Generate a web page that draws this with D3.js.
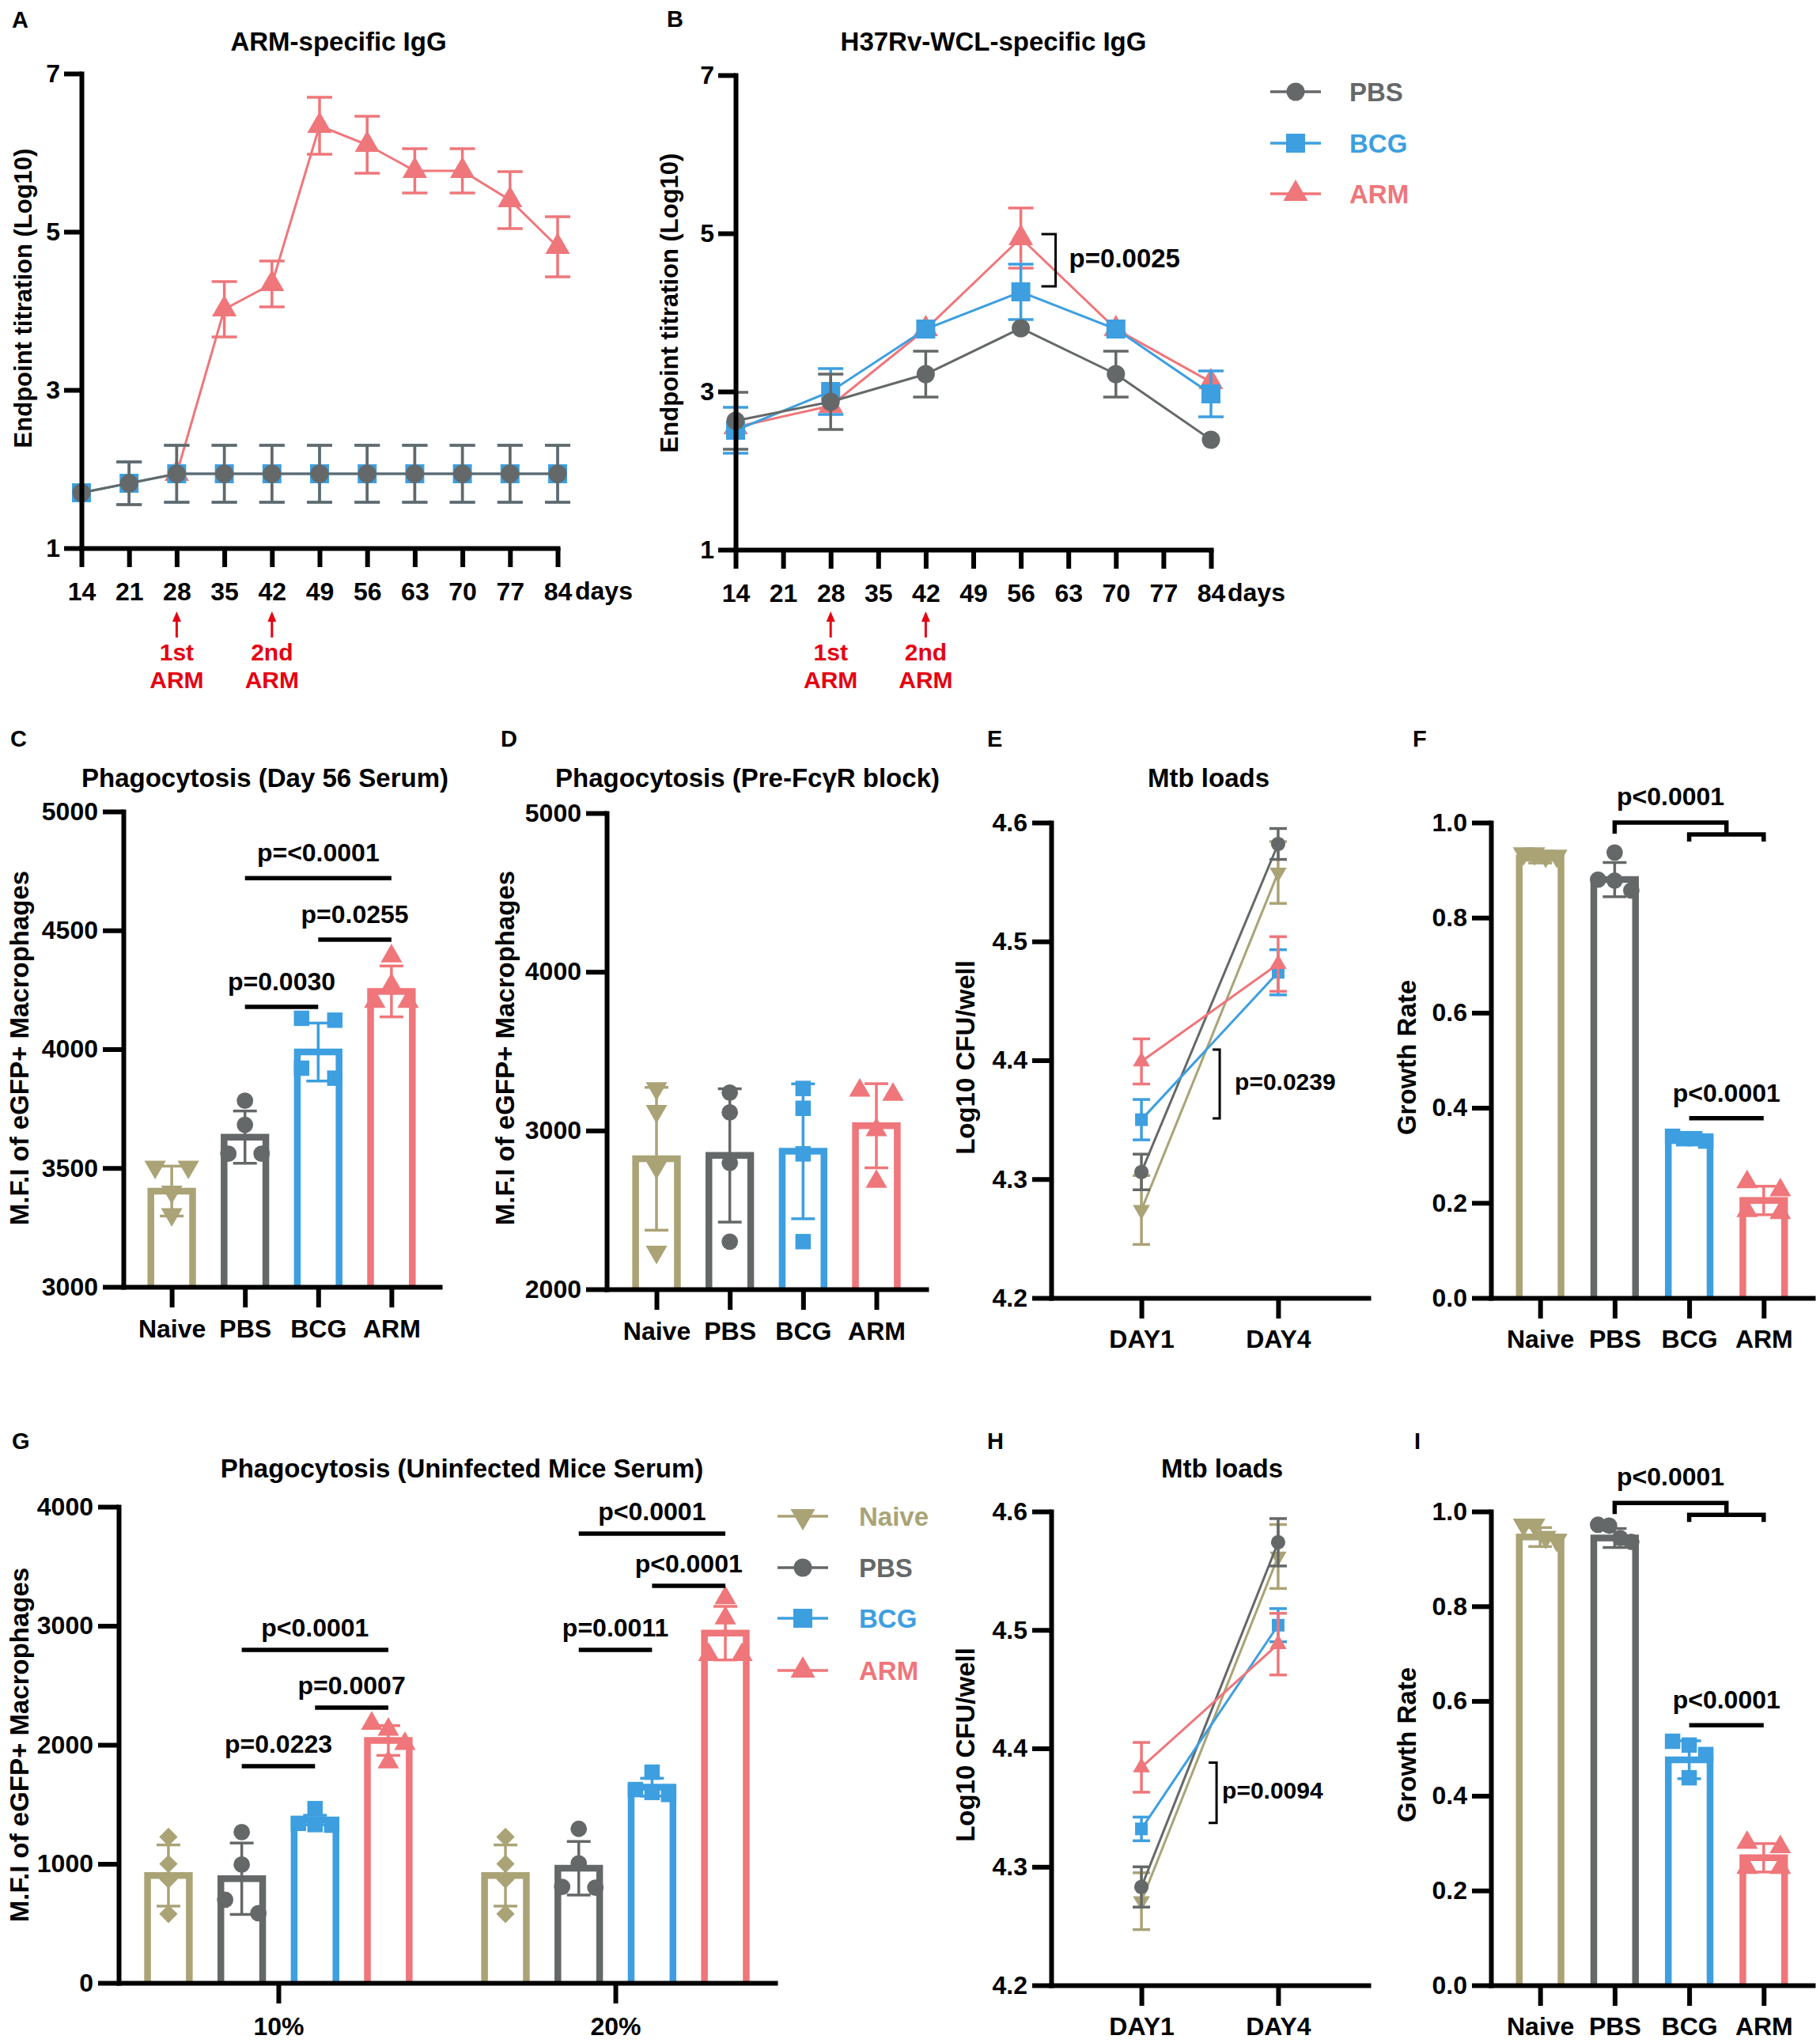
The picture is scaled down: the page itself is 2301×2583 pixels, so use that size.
<!DOCTYPE html>
<html>
<head>
<meta charset="utf-8">
<script src="https://cdn.jsdelivr.net/npm/d3@7"></script>
<style>
  body { margin: 0; background: #fff; }
  svg { display: block; }
</style>
</head>
<body>
<script>
// ---------- data ----------
const groups = ["Naive", "PBS", "BCG", "ARM"];

// A: ARM-specific IgG (log10 titre)
const daysA  = [14, 21, 28, 35, 42, 49, 56, 63, 70, 77, 84];
const pbsA   = [1.70, 1.82, 1.94, 1.94, 1.94, 1.94, 1.94, 1.94, 1.94, 1.94, 1.94];
const pbsAsd = [0, 0.27, 0.36, 0.36, 0.36, 0.36, 0.36, 0.36, 0.36, 0.36, 0.36];
const bcgA   = [1.70, 1.82, 1.94, 1.94, 1.94, 1.94, 1.94, 1.94, 1.94, 1.94, 1.94];
const bcgAsd = [0, 0.27, 0.36, 0.36, 0.36, 0.36, 0.36, 0.36, 0.36, 0.36, 0.36];
const armA   = [null, null, 1.94, 4.02, 4.34, 6.34, 6.10, 5.77, 5.77, 5.40, 4.81];
const armAsd = [null, null, 0, 0.35, 0.29, 0.36, 0.36, 0.28, 0.28, 0.36, 0.38];

// B: H37Rv-WCL-specific IgG
const dayTicks = [14, 21, 28, 35, 42, 49, 56, 63, 70, 77, 84];
const daysB  = [14, 28, 42, 56, 70, 84];
const pbsB   = [2.63, 2.87, 3.22, 3.80, 3.22, 2.39];
const pbsBsd = [0.36, 0.35, 0.29, 0, 0.29, 0];
const bcgB   = [2.51, 3.00, 3.79, 4.26, 3.79, 2.97];
const bcgBsd = [0.29, 0.29, 0, 0.35, 0, 0.29];
const armB   = [2.55, 2.82, 3.79, 4.94, 3.79, 3.12];
const armBsd = [0, 0, 0, 0.38, 0, 0];

// C: phagocytosis, day 56 serum
const cMean = [3403, 3630, 3988, 4243];
const cSd   = [105, 110, 122, 107];
const cPts  = [[3505, 3505, 3400, 3305], [3783, 3682, 3560, 3560], [4130, 4122, 3920, 3878], [4391, 4270, 4200, 4200]];

// D: phagocytosis, pre-FcgR block
const dMean = [2822, 2843, 2869, 3030];
const dSd   = [450, 420, 425, 265];
const dPts  = [[3265, 3122, 2770, 2235], [3239, 3114, 2796, 2300], [3265, 3140, 2853, 2300], [3226, 3252, 3004, 2678]];

// E: Mtb loads
const dayCats = ["DAY1", "DAY4"];
const eNaive = [4.274, 4.558], eNaiveSd = [0.029, 0.026];
const ePbs   = [4.306, 4.582], ePbsSd   = [0.015, 0.013];
const eBcg   = [4.350, 4.474], eBcgSd   = [0.017, 0.019];
const eArm   = [4.399, 4.481], eArmSd   = [0.019, 0.023];

// F: growth rate
const fMean = [0.925, 0.880, 0.336, 0.205];
const fSd   = [0.010, 0.036, 0.008, 0.030];
const fPts  = [[0.935, 0.930, 0.930, 0.935], [0.937, 0.880, 0.878, 0.857], [0.340, 0.335, 0.330, 0.335], [0.244, 0.227, 0.183, 0.179]];

// G: phagocytosis, uninfected mice serum
const serum = ["10%", "20%"];
const g10Mean = [902, 875, 1368, 2036];
const g10Sd   = [257, 300, 40, 125];
const g10Pts  = [[1226, 1000, 870, 579], [1266, 994, 698, 585], [1464, 1340, 1330, 1325], [2128, 2179, 2009, 1855]];
const g20Mean = [902, 963, 1644, 2938];
const g20Sd   = [257, 225, 75, 225];
const g20Pts  = [[1226, 1000, 870, 579], [1294, 1004, 807, 800], [1770, 1624, 1600, 1583], [3234, 3064, 2757, 2757]];

// H: Mtb loads
const hNaive = [4.271, 4.562], hNaiveSd = [0.024, 0.027];
const hPbs   = [4.283, 4.574], hPbsSd   = [0.017, 0.020];
const hBcg   = [4.332, 4.504], hBcgSd   = [0.010, 0.014];
const hArm   = [4.384, 4.488], hArmSd   = [0.021, 0.026];

// I: growth rate
const iMean = [0.946, 0.944, 0.476, 0.269];
const iSd   = [0.020, 0.020, 0.040, 0.030];
const iPts  = [[0.972, 0.972, 0.946, 0.940], [0.972, 0.970, 0.944, 0.936], [0.515, 0.507, 0.487, 0.438], [0.301, 0.292, 0.248, 0.248]];

// ---------- setup ----------
const FONT = "'Liberation Sans', Arial, Helvetica, sans-serif";
const COL = { Naive: "#aaa376", PBS: "#656868", BCG: "#3d9fe0", ARM: "#ef767a" };
const RED = "#e50012";
const SHAPE = { Naive: "down", PBS: "circle", BCG: "square", ARM: "up" };

const svg = d3.select("body").append("svg")
    .attr("width", 2301).attr("height", 2583)
    .style("font-family", FONT).style("font-weight", "bold");
svg.append("rect").attr("width", 2301).attr("height", 2583).attr("fill", "#fff");

function label(x, y, s, o = {}) {
    const t = svg.append("text")
        .attr("x", x).attr("y", y).attr("dy", "0.35em")
        .attr("text-anchor", o.anchor || "middle")
        .attr("font-size", o.fs || 32)
        .attr("fill", o.fill || "#000")
        .text(s);
    if (o.rot) t.attr("transform", `rotate(-90,${x},${y})`);
    return t;
}

function styleAxis(g, fs) {
    g.attr("font-family", null).attr("font-size", null);
    g.select(".domain").attr("stroke", "#000").attr("stroke-width", 6).attr("stroke-linecap", "square");
    g.selectAll(".tick line").attr("stroke", "#000").attr("stroke-width", 6);
    g.selectAll(".tick text").attr("fill", "#000").attr("font-size", fs);
}

function yAxis(y, xPos, ticks, fmt, size, pad) {
    const g = svg.append("g").attr("transform", `translate(${xPos},0)`)
        .call(d3.axisLeft(y).tickValues(ticks).tickFormat(fmt).tickSize(size).tickPadding(pad).tickSizeOuter(0));
    styleAxis(g, 32);
}

function xAxis(x, yPos, ticks, size, pad) {
    const ax = d3.axisBottom(x).tickSize(size).tickPadding(pad).tickSizeOuter(0);
    if (ticks) ax.tickValues(ticks);
    const g = svg.append("g").attr("transform", `translate(0,${yPos})`).call(ax);
    styleAxis(g, 32);
}

// symbols
function symPath(shape, size) {
    const t = { circle: d3.symbolCircle, square: d3.symbolSquare, up: d3.symbolTriangle,
                down: d3.symbolTriangle, diamond: d3.symbolSquare }[shape];
    return d3.symbol(t, size)();
}
function symAt(shape, x, y) {
    const r = shape === "down" ? " rotate(180)" : shape === "diamond" ? " rotate(45)" : "";
    return `translate(${x},${y})${r}`;
}

// line + error bars + markers
function lineSeries(g, x, y, xs, m, sd, col, shape, size, cap, lw) {
    const pts = xs.map((d, i) => ({ d, m: m[i], s: sd[i] })).filter(p => p.m != null);
    g.append("path").datum(pts)
        .attr("fill", "none").attr("stroke", col).attr("stroke-width", lw)
        .attr("d", d3.line().x(p => x(p.d)).y(p => y(p.m)));
    const eb = g.append("g").attr("stroke", col).attr("stroke-width", lw + 0.5);
    pts.filter(p => p.s > 0).forEach(p => {
        const cx = x(p.d);
        eb.append("line").attr("x1", cx).attr("x2", cx).attr("y1", y(p.m - p.s)).attr("y2", y(p.m + p.s));
        [p.m - p.s, p.m + p.s].forEach(v =>
            eb.append("line").attr("x1", cx - cap).attr("x2", cx + cap).attr("y1", y(v)).attr("y2", y(v)));
    });
    g.selectAll(null).data(pts).join("path")
        .attr("d", symPath(shape, size))
        .attr("transform", p => symAt(shape, x(p.d), y(p.m)))
        .attr("fill", col);
}

// horizontal spreading of replicate points that would overlap
function spread(vals, y, thr, w) {
    const idx = vals.map((v, i) => ({ i, py: y(v) })).sort((a, b) => a.py - b.py);
    const off = vals.map(() => 0);
    let cur = [idx[0]];
    const flush = c => {
        if (c.length > 1) c.forEach((p, j) => { off[p.i] = -w + 2 * w * j / (c.length - 1); });
    };
    for (let k = 1; k < idx.length; k++) {
        if (idx[k].py - idx[k - 1].py < thr) cur.push(idx[k]);
        else { flush(cur); cur = [idx[k]]; }
    }
    flush(cur);
    return off;
}

// open bars with SD and replicate points
function barSet(g, cx, y, means, sds, pts, shapes, bw) {
    const y0 = y.range()[0];
    groups.forEach((n, i) => {
        const c = cx(n), col = COL[n];
        g.append("path")
            .attr("d", `M${c - bw / 2},${y0}V${y(means[i])}H${c + bw / 2}V${y0}`)
            .attr("fill", "none").attr("stroke", col).attr("stroke-width", 8.5);
        const eb = g.append("g").attr("stroke", col).attr("stroke-width", 3.5);
        eb.append("line").attr("x1", c).attr("x2", c).attr("y1", y(means[i] - sds[i])).attr("y2", y(means[i] + sds[i]));
        [means[i] - sds[i], means[i] + sds[i]].forEach(v =>
            eb.append("line").attr("x1", c - 15).attr("x2", c + 15).attr("y1", y(v)).attr("y2", y(v)));
        const off = spread(pts[i], y, 18, 21);
        const sh = shapes[n];
        const size = { circle: 340, square: 380, up: 320, down: 320, diamond: 270 }[sh];
        g.selectAll(null).data(pts[i]).join("path")
            .attr("d", symPath(sh, size))
            .attr("transform", (v, j) => symAt(sh, c + off[j], y(v)))
            .attr("fill", col);
    });
}

function pLines(cx, y, list, dyText) {
    list.forEach(b => {
        const xa = cx(b.a), xb = cx(b.b), yy = y(b.v);
        svg.append("line").attr("x1", xa).attr("x2", xb).attr("y1", yy).attr("y2", yy)
            .attr("stroke", "#000").attr("stroke-width", 5.5);
        label((xa + xb) / 2, yy - dyText, b.t);
    });
}

function groupBracket(cx, y, v, t) {
    const x1 = cx("PBS"), xb = cx("BCG"), xa = cx("ARM"), xm = (xb + xa) / 2;
    const y1 = y(v), y2 = y1 + 15;
    svg.append("path")
        .attr("d", `M${x1},${y1 + 14}V${y1}H${xm}V${y2}M${xb},${y2 + 9}V${y2}H${xa}V${y2 + 9}`)
        .attr("fill", "none").attr("stroke", "#000").attr("stroke-width", 5.5);
    label((x1 + xm) / 2, y1 - 33, t);
}

function sideBracket(x, yTop, yBot, tick, t, tx, fs) {
    svg.append("path").attr("d", `M${x - tick},${yTop}H${x}V${yBot}H${x - tick}`)
        .attr("fill", "none").attr("stroke", "#000").attr("stroke-width", 3);
    label(x + tx, (yTop + yBot) / 2 - 3, t, { anchor: "start", fs });
}

function legend(x0, x1, xt, ys, names) {
    names.forEach((n, i) => {
        svg.append("line").attr("x1", x0).attr("x2", x1).attr("y1", ys[i]).attr("y2", ys[i])
            .attr("stroke", COL[n]).attr("stroke-width", 3.5);
        const size = { circle: 415, square: 576, up: 420, down: 420 }[SHAPE[n]];
        svg.append("path").attr("d", symPath(SHAPE[n], size))
            .attr("transform", symAt(SHAPE[n], (x0 + x1) / 2, ys[i])).attr("fill", COL[n]);
        label(xt, ys[i], n, { anchor: "start", fs: 33, fill: COL[n] });
    });
}

// red immunisation arrow with a two-line note
function arrowNote(x, l1, l2) {
    svg.append("line").attr("x1", x).attr("x2", x).attr("y1", 806).attr("y2", 780)
        .attr("stroke", RED).attr("stroke-width", 3);
    svg.append("path").attr("d", `M${x},773L${x - 5.5},786L${x + 5.5},786Z`).attr("fill", RED);
    label(x, 824, l1, { fill: RED, fs: 30 });
    label(x, 859, l2, { fill: RED, fs: 30 });
}

// ---------- A ----------
const xA = d3.scaleLinear().domain([14, 84]).range([103, 705]);
const yA = d3.scaleLinear().domain([1, 7]).range([693, 93]);
const gA = svg.append("g");
lineSeries(gA, xA, yA, daysA, armA, armAsd, COL.ARM, "up", 420, 16, 3);
lineSeries(gA, xA, yA, daysA, bcgA, bcgAsd, COL.BCG, "square", 576, 16, 3);
lineSeries(gA, xA, yA, daysA, pbsA, pbsAsd, COL.PBS, "circle", 415, 16, 3);
yAxis(yA, 103, [1, 3, 5, 7], d3.format("d"), 22, 5);
xAxis(xA, 693, daysA, 24, 19);
label(727, 747, "days", { anchor: "start" });
label(428, 52, "ARM-specific IgG", { fs: 33 });
label(29, 377, "Endpoint titration (Log10)", { fs: 31, rot: true });
label(15, 25, "A", { anchor: "start", fs: 29 });
arrowNote(xA(28), "1st", "ARM");
arrowNote(xA(42), "2nd", "ARM");

// ---------- B ----------
const xB = d3.scaleLinear().domain([14, 84]).range([930, 1531]);
const yB = d3.scaleLinear().domain([1, 7]).range([695, 95]);
const gB = svg.append("g");
lineSeries(gB, xB, yB, daysB, armB, armBsd, COL.ARM, "up", 420, 16, 3);
lineSeries(gB, xB, yB, daysB, bcgB, bcgBsd, COL.BCG, "square", 576, 16, 3);
lineSeries(gB, xB, yB, daysB, pbsB, pbsBsd, COL.PBS, "circle", 415, 16, 3);
yAxis(yB, 930, [1, 3, 5, 7], d3.format("d"), 22, 5);
xAxis(xB, 695, dayTicks, 24, 19);
label(1552, 749, "days", { anchor: "start" });
label(1256, 52, "H37Rv-WCL-specific IgG", { fs: 33 });
label(846, 383, "Endpoint titration (Log10)", { fs: 31, rot: true });
label(843, 24, "B", { anchor: "start", fs: 29 });
arrowNote(xB(28), "1st", "ARM");
arrowNote(xB(42), "2nd", "ARM");
sideBracket(xB(56) + 44, yB(4.99), yB(4.33), 18, "p=0.0025", 17, 33);
legend(1606, 1670, 1706, [116, 181, 245], ["PBS", "BCG", "ARM"]);

// ---------- C ----------
const xC = d3.scalePoint().domain(groups).range([156, 556]).padding(0.66);
const yC = d3.scaleLinear().domain([3000, 5000]).range([1627, 1026]);
barSet(svg.append("g"), xC, yC, cMean, cSd, cPts, SHAPE, xC.step() * 0.57);
yAxis(yC, 156, [3000, 3500, 4000, 4500, 5000], d3.format("d"), 26, 6);
xAxis(xC, 1627, null, 26, 15);
pLines(xC, yC, [
    { a: "PBS", b: "ARM", v: 4720, t: "p=<0.0001" },
    { a: "BCG", b: "ARM", v: 4461, t: "p=0.0255" },
    { a: "PBS", b: "BCG", v: 4178, t: "p=0.0030" }], 32);
label(335, 983, "Phagocytosis (Day 56 Serum)", { fs: 33 });
label(24, 1325, "M.F.I of eGFP+ Macrophages", { fs: 33, rot: true });
label(13, 934, "C", { anchor: "start", fs: 29 });

// ---------- D ----------
const xD = d3.scalePoint().domain(groups).range([767, 1171]).padding(0.68);
const yD = d3.scaleLinear().domain([2000, 5000]).range([1630, 1028]);
barSet(svg.append("g"), xD, yD, dMean, dSd, dPts, SHAPE, xD.step() * 0.57);
yAxis(yD, 767, [2000, 3000, 4000, 5000], d3.format("d"), 26, 6);
xAxis(xD, 1630, null, 26, 15);
label(945, 983, "Phagocytosis (Pre-FcγR block)", { fs: 33 });
label(638, 1325, "M.F.I of eGFP+ Macrophages", { fs: 33, rot: true });
label(633, 934, "D", { anchor: "start", fs: 29 });

// ---------- E ----------
const xE = d3.scalePoint().domain(dayCats).range([1329, 1730]).padding(0.66);
const yE = d3.scaleLinear().domain([4.2, 4.6]).range([1641, 1040]);
const gE = svg.append("g");
lineSeries(gE, xE, yE, dayCats, eNaive, eNaiveSd, COL.Naive, "down", 200, 11, 3);
lineSeries(gE, xE, yE, dayCats, ePbs, ePbsSd, COL.PBS, "circle", 260, 11, 3);
lineSeries(gE, xE, yE, dayCats, eBcg, eBcgSd, COL.BCG, "square", 256, 11, 3);
lineSeries(gE, xE, yE, dayCats, eArm, eArmSd, COL.ARM, "up", 200, 11, 3);
yAxis(yE, 1329, [4.2, 4.3, 4.4, 4.5, 4.6], d3.format(".1f"), 24, 6);
xAxis(xE, 1641, null, 26, 14);
sideBracket(xE("DAY1") + 99, yE(4.409), yE(4.351), 9, "p=0.0239", 19, 30);
label(1528, 983, "Mtb loads", { fs: 33 });
label(1220, 1337, "Log10 CFU/well", { fs: 33, rot: true });
label(1248, 934, "E", { anchor: "start", fs: 29 });

// ---------- F ----------
const xF = d3.scalePoint().domain(groups).range([1885, 2292]).padding(0.66);
const yF = d3.scaleLinear().domain([0, 1]).range([1641, 1040]);
barSet(svg.append("g"), xF, yF, fMean, fSd, fPts, SHAPE, xF.step() * 0.56);
yAxis(yF, 1885, [0, 0.2, 0.4, 0.6, 0.8, 1.0], d3.format(".1f"), 24, 6);
xAxis(xF, 1641, null, 26, 14);
groupBracket(xF, yF, 1.0, "p<0.0001");
pLines(xF, yF, [{ a: "BCG", b: "ARM", v: 0.378, t: "p<0.0001" }], 32);
label(1778, 1337, "Growth Rate", { fs: 33, rot: true });
label(1786, 934, "F", { anchor: "start", fs: 29 });

// ---------- G ----------
const xG = d3.scalePoint().domain(serum).range([150, 980]).padding(0.474);
const xSub = d3.scalePoint().domain(groups).range([-139, 139]);
const yG = d3.scaleLinear().domain([0, 4000]).range([2507, 1905]);
const shapeG = { Naive: "diamond", PBS: "circle", BCG: "square", ARM: "up" };
const cx10 = n => xG("10%") + xSub(n), cx20 = n => xG("20%") + xSub(n);
barSet(svg.append("g"), cx10, yG, g10Mean, g10Sd, g10Pts, shapeG, xSub.step() * 0.57);
barSet(svg.append("g"), cx20, yG, g20Mean, g20Sd, g20Pts, shapeG, xSub.step() * 0.57);
yAxis(yG, 150, [0, 1000, 2000, 3000, 4000], d3.format("d"), 26, 6);
xAxis(xG, 2507, null, 26, 17);
pLines(cx10, yG, [
    { a: "PBS", b: "ARM", v: 2797, t: "p<0.0001" },
    { a: "BCG", b: "ARM", v: 2312, t: "p=0.0007" },
    { a: "PBS", b: "BCG", v: 1821, t: "p=0.0223" }], 28);
pLines(cx20, yG, [
    { a: "PBS", b: "ARM", v: 3774, t: "p<0.0001" },
    { a: "BCG", b: "ARM", v: 3336, t: "p<0.0001" },
    { a: "PBS", b: "BCG", v: 2797, t: "p=0.0011" }], 28);
legend(983, 1047, 1086, [1917, 1982, 2046, 2112], groups);
label(584, 1856, "Phagocytosis (Uninfected Mice Serum)", { fs: 33 });
label(24, 2206, "M.F.I of eGFP+ Macrophages", { fs: 33, rot: true });
label(15, 1822, "G", { anchor: "start", fs: 29 });

// ---------- H ----------
const xH = d3.scalePoint().domain(dayCats).range([1329, 1730]).padding(0.66);
const yH = d3.scaleLinear().domain([4.2, 4.6]).range([2510, 1911]);
const gH = svg.append("g");
lineSeries(gH, xH, yH, dayCats, hNaive, hNaiveSd, COL.Naive, "down", 200, 11, 3);
lineSeries(gH, xH, yH, dayCats, hPbs, hPbsSd, COL.PBS, "circle", 260, 11, 3);
lineSeries(gH, xH, yH, dayCats, hBcg, hBcgSd, COL.BCG, "square", 256, 11, 3);
lineSeries(gH, xH, yH, dayCats, hArm, hArmSd, COL.ARM, "up", 200, 11, 3);
yAxis(yH, 1329, [4.2, 4.3, 4.4, 4.5, 4.6], d3.format(".1f"), 24, 6);
xAxis(xH, 2510, null, 26, 14);
sideBracket(xH("DAY1") + 95, yH(4.388), yH(4.337), 10, "p=0.0094", 7, 30);
label(1545, 1856, "Mtb loads", { fs: 33 });
label(1220, 2206, "Log10 CFU/well", { fs: 33, rot: true });
label(1248, 1822, "H", { anchor: "start", fs: 29 });

// ---------- I ----------
const xI = d3.scalePoint().domain(groups).range([1885, 2292]).padding(0.66);
const yI = d3.scaleLinear().domain([0, 1]).range([2510, 1911]);
barSet(svg.append("g"), xI, yI, iMean, iSd, iPts, SHAPE, xI.step() * 0.56);
yAxis(yI, 1885, [0, 0.2, 0.4, 0.6, 0.8, 1.0], d3.format(".1f"), 24, 6);
xAxis(xI, 2510, null, 26, 14);
groupBracket(xI, yI, 1.018, "p<0.0001");
pLines(xI, yI, [{ a: "BCG", b: "ARM", v: 0.549, t: "p<0.0001" }], 32);
label(1778, 2206, "Growth Rate", { fs: 33, rot: true });
label(1788, 1822, "I", { anchor: "start", fs: 29 });
</script>
</body>
</html>
